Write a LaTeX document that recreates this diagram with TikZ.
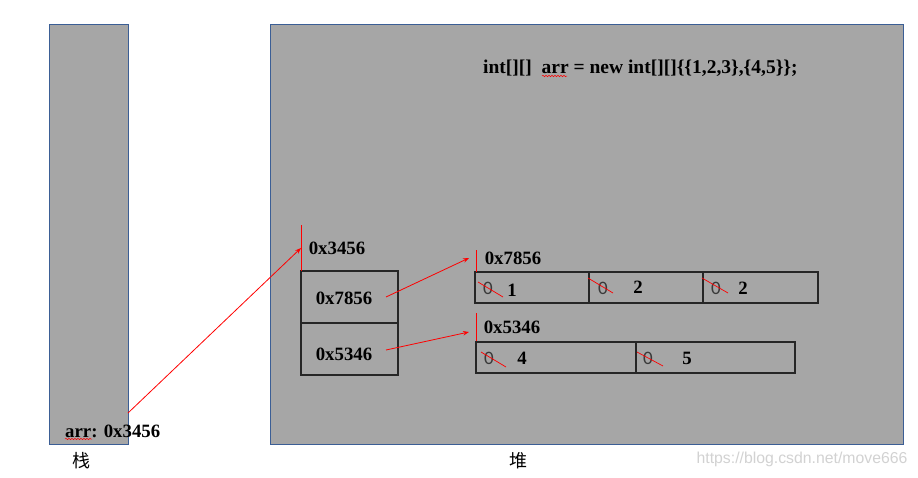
\documentclass[tikz,border=0pt]{standalone}
\usepackage{fontspec}
\setmainfont{Liberation Serif}
\newfontfamily\cjk{Noto Sans CJK SC}
\newfontfamily\wmfont{Liberation Sans}
\newfontfamily\zerofont{Carlito}
\usetikzlibrary{arrows.meta,decorations.pathmorphing}
\definecolor{bg}{HTML}{A6A6A6}
\definecolor{panelblue}{HTML}{3B5E95}
\definecolor{boxline}{HTML}{262626}
\definecolor{zerogray}{HTML}{3A3A3A}
\definecolor{wmgray}{HTML}{D2D2D2}
\begin{document}
\begin{tikzpicture}[x=1pt,y=-1pt,
  panel/.style={draw=panelblue, fill=bg, line width=0.8pt, inner sep=0pt, outer sep=0pt},
  cell/.style={draw=boxline, line width=1.1pt, inner sep=0pt, outer sep=0pt},
  lbl/.style={font=\bfseries\fontsize{18.8}{21}\selectfont, inner sep=0pt},
  zero/.style={font=\zerofont\fontsize{19}{21}\selectfont, text=zerogray, inner sep=0pt},
  strike/.style={red, line width=0.7pt},
  redbar/.style={red, line width=0.8pt},
  ptr/.style={red, line width=0.8pt, -{Stealth[length=6pt,width=4.5pt]}},
  wavy/.style={red, line width=0.5pt, decorate, decoration={snake, amplitude=0.7pt, segment length=3pt}}]
\useasboundingbox[fill=white] (0,0) rectangle (918,477);

% panels
\node[panel, minimum width=79pt, minimum height=420pt, anchor=north west] (stack) at (49,24) {};
\node[panel, minimum width=633pt, minimum height=420pt, anchor=north west] (heap) at (270,24) {};

% captions
\node[font=\cjk\fontsize{18}{20}\selectfont, inner sep=0pt] (zhan) at (81,461) {栈};
\node[font=\cjk\fontsize{18}{20}\selectfont, inner sep=0pt] (dui) at (518,461) {堆};
\node[font=\wmfont\fontsize{15.8}{18}\selectfont, text=wmgray, inner sep=0pt] (wm) at (802,459) {https://blog.csdn.net/move666};

% code line
\node[lbl, font=\bfseries\fontsize{19.5}{22}\selectfont, anchor=base west] (code) at (483,73) {int[][]\ \ arr = new int[][]\{\{1,2,3\},\{4,5\}\};};
\draw[wavy] (542,76) -- (567,76);

% stack variable
\node[lbl, anchor=base west] (arrvar) at (65,437) {arr: 0x3456};
\draw[wavy] (65,439) -- (92,439);

% outer array
\node[lbl] (h0) at (337,248) {0x3456};
\node[cell, minimum width=97pt, minimum height=52pt] (o1) at (349.5,297) {};
\node[cell, minimum width=97pt, minimum height=52pt] (o2) at (349.5,349) {};
\node[lbl] (t1) at (344,298) {0x7856};
\node[lbl] (t2) at (344,354) {0x5346};
\coordinate (b0) at (301,225);
\draw[redbar] (b0) -- (o1.north west);

% row 1
\node[lbl] (h1) at (513,258) {0x7856};
\node[cell, minimum width=114pt, minimum height=31pt] (r11) at (532,287.5) {};
\node[cell, minimum width=114pt, minimum height=31pt] (r12) at (646,287.5) {};
\node[cell, minimum width=115pt, minimum height=31pt] (r13) at (760.5,287.5) {};
\coordinate (b1) at (476,250);
\coordinate (b1e) at (476,272);
\draw[redbar] (b1) -- (b1e);

% row 2
\node[lbl] (h2) at (512,327) {0x5346};
\node[cell, minimum width=160pt, minimum height=31pt] (r21) at (556,357.5) {};
\node[cell, minimum width=159pt, minimum height=31pt] (r22) at (715.5,357.5) {};
\coordinate (b2) at (476,313);
\coordinate (b2e) at (476,341);
\draw[redbar] (b2) -- (b2e);

% cell contents
\node[zero] (z11) at (488,288) {0};
\node[zero] (z12) at (603,288) {0};
\node[zero] (z13) at (716,288) {0};
\node[zero] (z21) at (489,358) {0};
\node[zero] (z22) at (648,358) {0};
\draw[strike] (478,282) -- (503,297);
\draw[strike] (588,278) -- (613,293);
\draw[strike] (702,278) -- (728,293);
\draw[strike] (481,352) -- (506,367);
\draw[strike] (637,352) -- (663,366);
\node[lbl] (v11) at (512,290) {1};
\node[lbl] (v12) at (638,287) {2};
\node[lbl] (v13) at (743,288) {2};
\node[lbl] (v21) at (522,358) {4};
\node[lbl] (v22) at (687,358) {5};

% pointers
\coordinate (a0) at (128,413);
\coordinate (p0) at (301,248);
\draw[ptr] (a0) -- (p0);
\coordinate (a1) at (386,297);
\coordinate (p1) at (469,258);
\draw[ptr] (a1) -- (p1);
\coordinate (a2) at (386,350);
\coordinate (p2) at (469,332);
\draw[ptr] (a2) -- (p2);
\end{tikzpicture}
\end{document}
